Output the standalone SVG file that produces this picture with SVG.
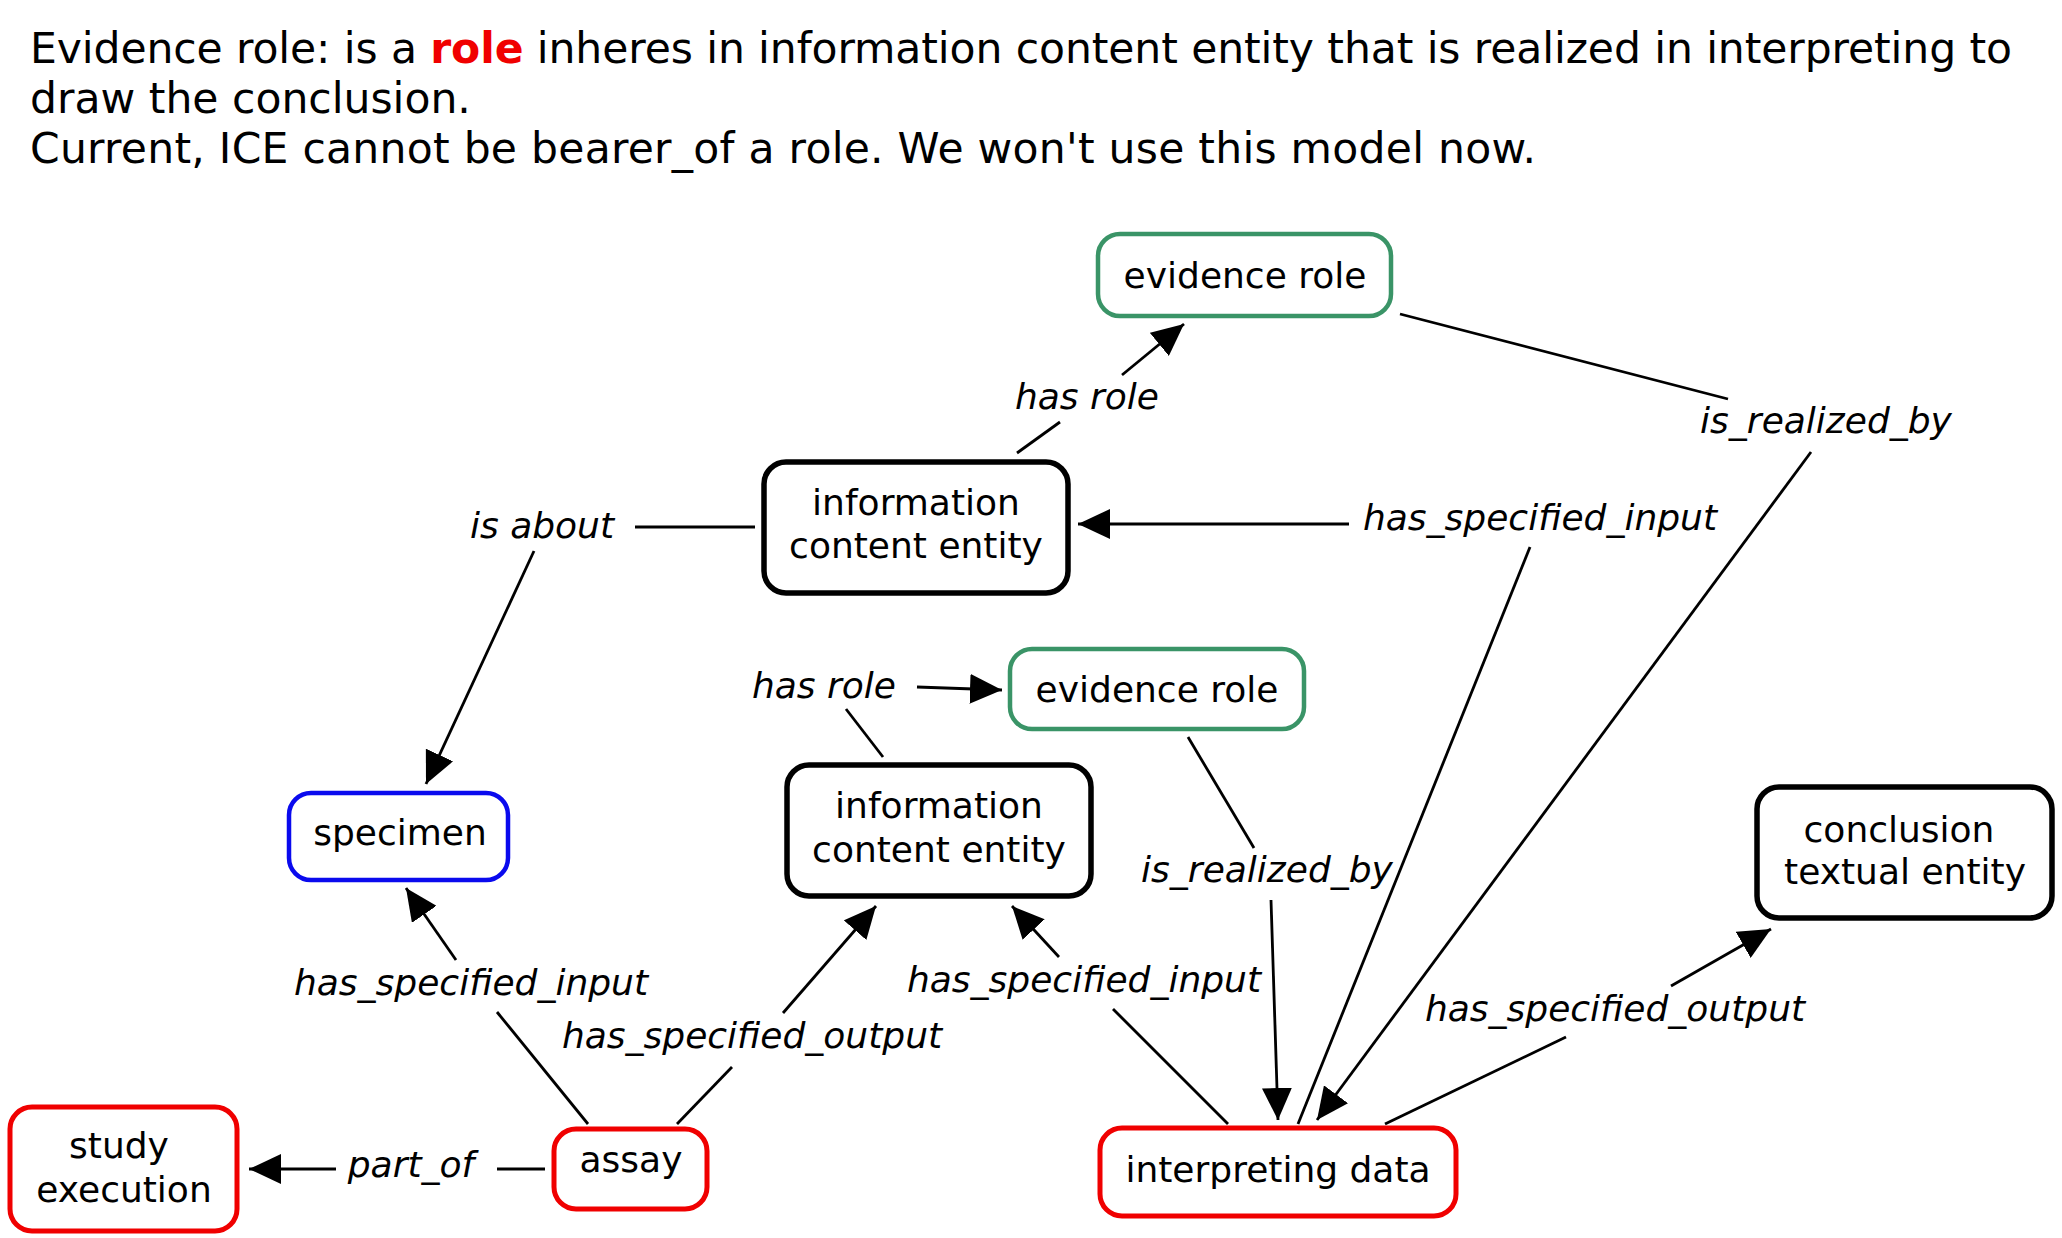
<svg xmlns="http://www.w3.org/2000/svg" width="2062" height="1238" viewBox="0 0 2062 1238">
<style>
.title{font-family:"DejaVu Sans",Verdana,sans-serif;font-size:42.5px;fill:#000}
.node rect{fill:#fff;stroke-width:4.5}
.node text{font-family:"DejaVu Sans",Verdana,sans-serif;font-size:36px;fill:#000;text-anchor:middle}
.blk rect{stroke:#000;stroke-width:5.5}
.grn rect{stroke:#3a9467}
.blu rect{stroke:#0a0aee}
.red rect{stroke:#f00000;stroke-width:5}
.edges line{stroke:#000;stroke-width:2.8;fill:none}
.edges line.arr{marker-end:url(#ah)}
.lbl{font-family:"DejaVu Sans",Verdana,sans-serif;font-style:italic;font-size:36px;fill:#000;text-anchor:middle}
</style>
<defs>
<marker id="ah" viewBox="0 0 32 30" refX="32" refY="15" markerWidth="32" markerHeight="30" orient="auto" markerUnits="userSpaceOnUse">
<path d="M0,0 L32,15 L0,30 z" fill="#000"/>
</marker>
</defs>
<rect width="2062" height="1238" fill="#fff"/>
<g id="title">
<text class="title" x="30" y="63" textLength="1982" lengthAdjust="spacing">Evidence role: is a <tspan font-weight="bold" fill="#f00000">role</tspan> inheres in information content entity that is realized in interpreting to</text>
<text class="title" x="30" y="113">draw the conclusion.</text>
<text class="title" x="30" y="163" textLength="1506" lengthAdjust="spacing">Current, ICE cannot be bearer_of a role. We won't use this model now.</text>
</g>
<g id="edges" class="edges">
<g id="e-hasrole-top">
<line x1="1017" y1="453" x2="1060" y2="422"/>
<line class="arr" x1="1122" y1="375" x2="1184" y2="324"/>
<text class="lbl" x="1087" y="409">has role</text>
</g>
<g id="e-isabout">
<line x1="755" y1="527" x2="635" y2="527"/>
<line class="arr" x1="534" y1="551" x2="426" y2="784"/>
<text class="lbl" x="542" y="538">is about</text>
</g>
<g id="e-hsi-top">
<line x1="1298" y1="1124" x2="1530" y2="547"/>
<line class="arr" x1="1349" y1="524" x2="1078" y2="524"/>
<text class="lbl" x="1540" y="530">has_specified_input</text>
</g>
<g id="e-irb-top">
<line x1="1400" y1="314" x2="1728" y2="399"/>
<line class="arr" x1="1811" y1="452" x2="1317" y2="1120"/>
<text class="lbl" x="1826" y="433">is_realized_by</text>
</g>
<g id="e-hasrole-mid">
<line x1="883" y1="757" x2="846" y2="709"/>
<line class="arr" x1="917" y1="687" x2="1002" y2="690"/>
<text class="lbl" x="824" y="698">has role</text>
</g>
<g id="e-irb-mid">
<line x1="1188" y1="737" x2="1254" y2="848"/>
<line class="arr" x1="1271" y1="900" x2="1278" y2="1120"/>
<text class="lbl" x="1267" y="882">is_realized_by</text>
</g>
<g id="e-hsi-mid">
<line x1="1228" y1="1124" x2="1113" y2="1009"/>
<line class="arr" x1="1059" y1="957" x2="1012" y2="906"/>
<text class="lbl" x="1084" y="992">has_specified_input</text>
</g>
<g id="e-hso-concl">
<line x1="1385" y1="1124" x2="1566" y2="1037"/>
<line class="arr" x1="1671" y1="986" x2="1771" y2="929"/>
<text class="lbl" x="1615" y="1021">has_specified_output</text>
</g>
<g id="e-hsi-specimen">
<line x1="588" y1="1124" x2="497" y2="1012"/>
<line class="arr" x1="456" y1="960" x2="406" y2="888"/>
<text class="lbl" x="471" y="995">has_specified_input</text>
</g>
<g id="e-hso-ice">
<line x1="677" y1="1124" x2="732" y2="1067"/>
<line class="arr" x1="783" y1="1013" x2="876" y2="906"/>
<text class="lbl" x="752" y="1048">has_specified_output</text>
</g>
<g id="e-partof">
<line x1="545" y1="1169" x2="497" y2="1169"/>
<line class="arr" x1="336" y1="1169" x2="249" y2="1169"/>
<text class="lbl" x="411" y="1177">part_of</text>
</g>
</g>
<g id="n-evidence-top" class="node grn">
<rect x="1098" y="234" width="293" height="82" rx="22"/>
<text x="1245" y="288">evidence role</text>
</g>
<g id="n-ice-top" class="node blk">
<rect x="764" y="462" width="304" height="131" rx="22"/>
<text x="916" y="515">information</text>
<text x="916" y="558">content entity</text>
</g>
<g id="n-specimen" class="node blu">
<rect x="289" y="793" width="219" height="87" rx="22"/>
<text x="400" y="845">specimen</text>
</g>
<g id="n-evidence-mid" class="node grn">
<rect x="1010" y="649" width="294" height="80" rx="22"/>
<text x="1157" y="702">evidence role</text>
</g>
<g id="n-ice-mid" class="node blk">
<rect x="787" y="765" width="304" height="131" rx="22"/>
<text x="939" y="818">information</text>
<text x="939" y="862">content entity</text>
</g>
<g id="n-conclusion" class="node blk">
<rect x="1757" y="787" width="295" height="131" rx="22"/>
<text x="1899" y="842">conclusion</text>
<text x="1905" y="884">textual entity</text>
</g>
<g id="n-study" class="node red">
<rect x="10" y="1107" width="227" height="124" rx="22"/>
<text x="119" y="1158">study</text>
<text x="124" y="1202">execution</text>
</g>
<g id="n-assay" class="node red">
<rect x="554" y="1129" width="153" height="80" rx="22"/>
<text x="631" y="1172">assay</text>
</g>
<g id="n-interp" class="node red">
<rect x="1100" y="1128" width="356" height="88" rx="22"/>
<text x="1278" y="1182">interpreting data</text>
</g>
</svg>
